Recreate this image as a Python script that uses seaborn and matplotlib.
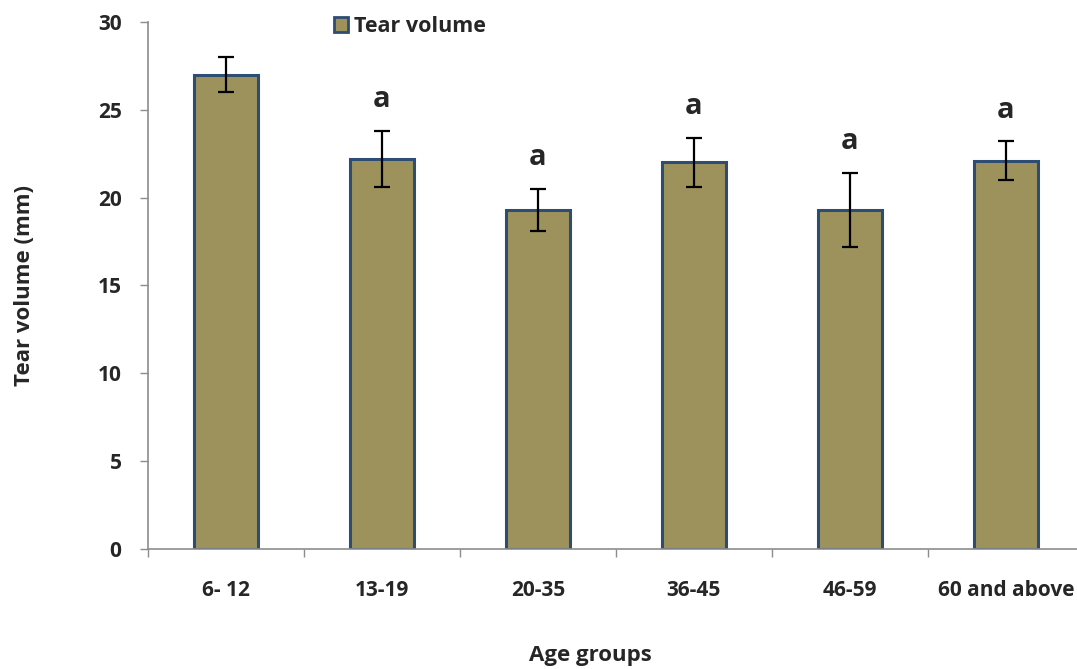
import matplotlib
matplotlib.use('Agg')
import matplotlib.pyplot as plt
import numpy as np
import pandas as pd
import seaborn as sns
from matplotlib.patches import Patch

age_groups = ['6- 12', '13-19', '20-35', '36-45', '46-59', '60 and above']
tear_volume = [27.0, 22.2, 19.3, 22.0, 19.3, 22.1]
tear_err = [1.0, 1.6, 1.2, 1.4, 2.1, 1.1]
sig_letters = ['', 'a', 'a', 'a', 'a', 'a']

bar_color = '#9e925c'
edge_color = '#2d4d73'
axis_gray = '#8c8c8c'

sns.set_style('white')
plt.rcParams['font.family'] = ['Open Sans', 'DejaVu Sans']
plt.rcParams['font.weight'] = 'bold'

df = pd.DataFrame({'Age groups': age_groups, 'Tear volume': tear_volume})

fig = plt.figure(figsize=(10.77, 6.69), dpi=100)
ax = fig.add_axes([0.1374, 0.1794, 0.869, 0.788])

sns.barplot(data=df, x='Age groups', y='Tear volume', order=age_groups,
            color=bar_color, saturation=1, width=0.41,
            edgecolor=edge_color, linewidth=2.2, ax=ax)

xpos = np.arange(len(age_groups))
ax.errorbar(xpos, tear_volume, yerr=tear_err, fmt='none', ecolor='black',
            elinewidth=1.6, capsize=6, capthick=1.6, zorder=5)

for x, v, e, s in zip(xpos, tear_volume, tear_err, sig_letters):
    if s:
        ax.annotate(s, (x, v + e), xytext=(0, 12), textcoords='offset points',
                    ha='center', va='bottom', fontsize=21, fontweight='bold')

ax.set_xlim(-0.5, len(age_groups) - 0.5)
ax.set_ylim(0, 30)
ax.set_yticks(range(0, 31, 5))
ax.tick_params(axis='y', which='major', length=6, width=1, color=axis_gray,
               direction='out', left=True, labelsize=15, pad=13)
ax.tick_params(axis='x', which='major', length=0, labelsize=15, pad=22)
ax.set_xticks(np.arange(-0.5, len(age_groups), 1.0), minor=True)
ax.tick_params(axis='x', which='minor', length=6, width=1, color=axis_gray,
               direction='out', bottom=True)
for lbl in ax.get_xticklabels() + ax.get_yticklabels():
    lbl.set_fontweight('bold')

sns.despine(ax=ax, top=True, right=True)
for side in ['left', 'bottom']:
    ax.spines[side].set_color(axis_gray)
    ax.spines[side].set_linewidth(1.2)

ax.set_xlabel('Age groups', fontsize=16, fontweight='bold')
ax.set_ylabel('Tear volume (mm)', fontsize=16, fontweight='bold')
ax.xaxis.set_label_coords(0.473, -0.182)
ax.yaxis.set_label_coords(-0.121, 0.5)

handle = Patch(facecolor=bar_color, edgecolor=edge_color, linewidth=2)
fig.legend([handle], ['Tear volume'], loc='upper left',
           bbox_to_anchor=(0.292, 1.005), frameon=False,
           handlelength=0.65, handleheight=0.65, handletextpad=0.3,
           prop={'weight': 'bold', 'size': 15.5})

fig.savefig('out.png', dpi=100)
